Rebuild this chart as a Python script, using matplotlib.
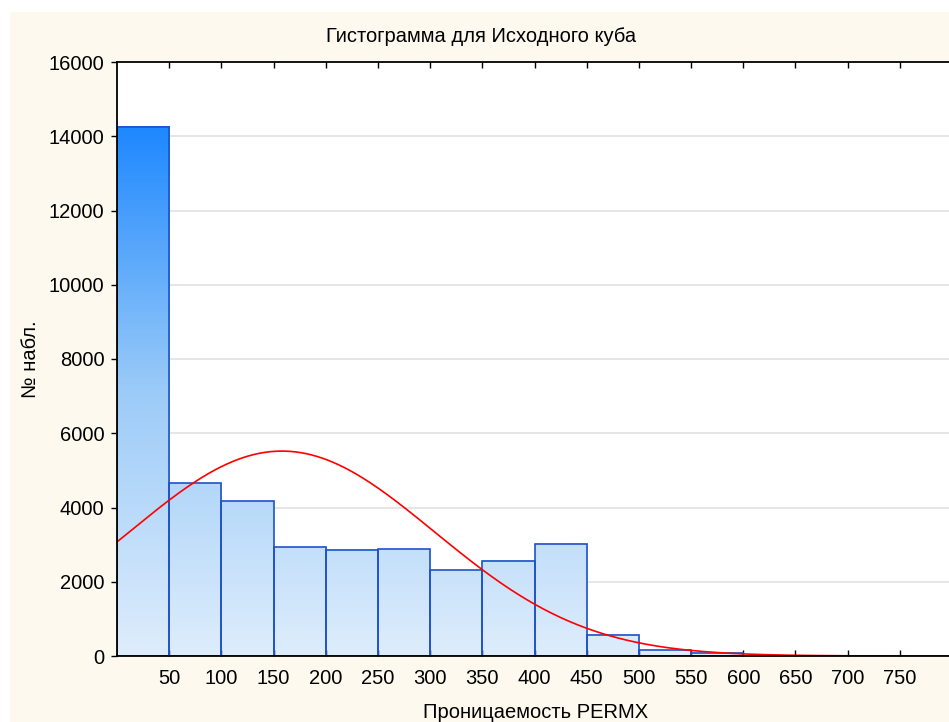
import numpy as np
import matplotlib
matplotlib.use("Agg")
import matplotlib.pyplot as plt
from matplotlib.colors import LinearSegmentedColormap, Normalize
from matplotlib.patches import Rectangle

# ---- data ----
bin_edges = [0, 50, 100, 150, 200, 250, 300, 350, 400, 450, 500, 550, 600]
counts = [14250, 4650, 4175, 2930, 2865, 2870, 2316, 2570, 3017, 568, 150, 90]
xtick_vals = [50, 100, 150, 200, 250, 300, 350, 400, 450, 500, 550, 600, 650, 700, 750]
ytick_vals = [0, 2000, 4000, 6000, 8000, 10000, 12000, 14000, 16000]
fit_mean = 158.0
fit_std = 146.0
fit_total = 40400

title = "Гистограмма для Исходного куба"
xlabel = "Проницаемость PERMX"
ylabel = "№ набл."

plt.rcParams['font.family'] = ['Liberation Sans', 'DejaVu Sans']
FS = 14.5

fig = plt.figure(figsize=(9.49, 7.22), dpi=100, facecolor='white')
# cream background panel
fig.patches.append(Rectangle((10/949, 0), 1, (722-12)/722, transform=fig.transFigure,
                             facecolor='#fdf9ee', edgecolor='none', zorder=-10))

ax = fig.add_axes([117/949, (722-656)/722, (952-117)/949, (656-62)/722])
ax.set_facecolor('white')
ax.set_xlim(0, 800)
ax.set_ylim(0, 16000)

# grid
for yv in ytick_vals[1:-1]:
    ax.axhline(yv, color='#e2e2e2', lw=1.2, zorder=0.5)

# gradient bars
cmap = LinearSegmentedColormap.from_list('g', ['#deedfc', '#9ccbf8', '#1e88ff'])
norm = Normalize(0, max(counts))
for i, c in enumerate(counts):
    x0, x1 = bin_edges[i], bin_edges[i+1]
    yy = np.linspace(0, c, 200)
    img = cmap(norm(yy))[:, None, :]
    ax.imshow(img, extent=[x0, x1, 0, c], origin='lower', aspect='auto',
              interpolation='bilinear', zorder=1)
ax.bar(bin_edges[:-1], counts, width=np.diff(bin_edges), align='edge',
       fill=False, edgecolor='#1f52c9', linewidth=1.2, zorder=2)
ax.set_xlim(0, 800)
ax.set_ylim(0, 16000)

# fitted normal curve
xs = np.linspace(0, 800, 800)
bw = bin_edges[1] - bin_edges[0]
ys = fit_total * bw / (fit_std * np.sqrt(2*np.pi)) * np.exp(-(xs - fit_mean)**2 / (2*fit_std**2))
ax.plot(xs, ys, color='#ff0000', lw=1.2, zorder=3)

# axes styling
ax.spines['right'].set_visible(False)
for s in ['top', 'left', 'bottom']:
    ax.spines[s].set_linewidth(1.3)
    ax.spines[s].set_color('black')
    ax.spines[s].set_zorder(4)

ax.set_xticks(xtick_vals)
ax.set_xticklabels([str(v) for v in xtick_vals], fontsize=FS)
ax.tick_params(axis='x', direction='in', top=True, bottom=True, length=4, width=1,
               pad=9.5)
ax.set_yticks(ytick_vals)
ax.set_yticklabels([str(v) for v in ytick_vals], fontsize=FS)
ax.tick_params(axis='y', direction='out', left=True, right=False, length=4, width=1, pad=5)

fig.text(481/949, (722-37)/722, title, ha='center', va='center', fontsize=FS)
fig.text(536/949, (722-712)/722, xlabel, ha='center', va='center', fontsize=FS)
fig.text(31/949, (722-359)/722, ylabel, ha='center', va='center', rotation=90, fontsize=FS)

fig.savefig('out.png', dpi=100, facecolor=fig.get_facecolor())
